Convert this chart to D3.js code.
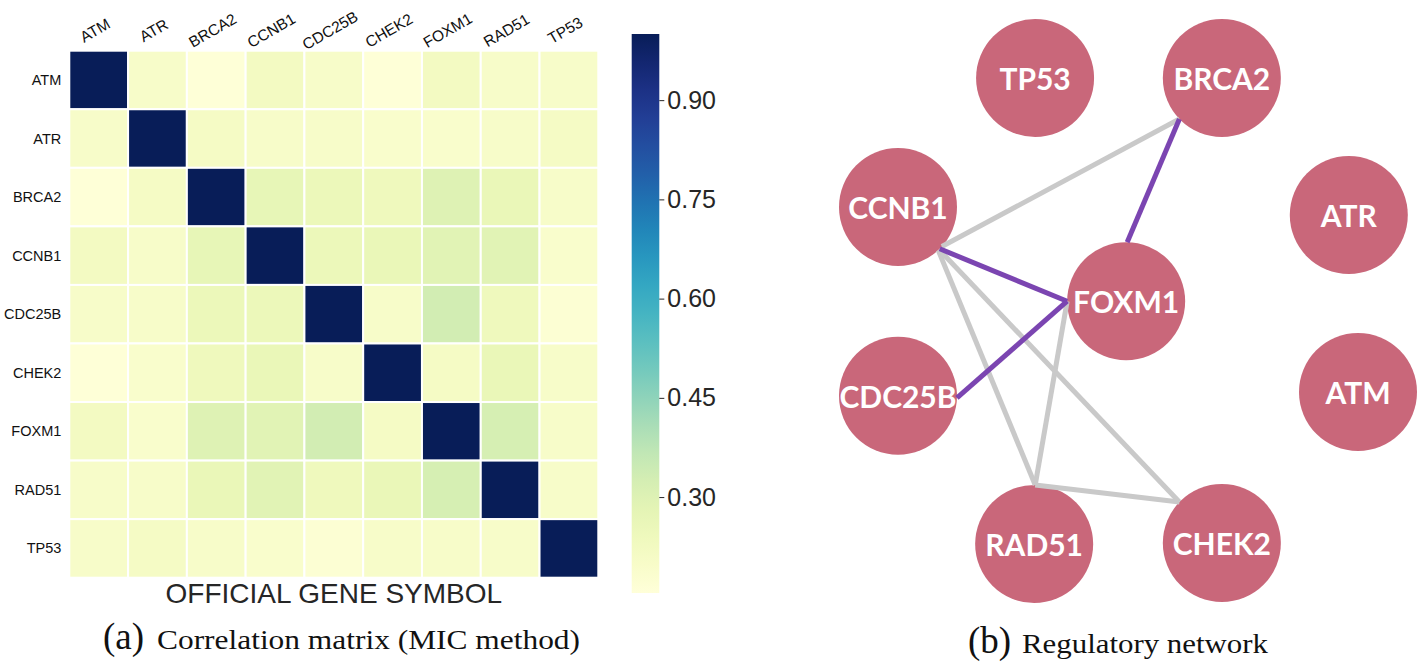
<!DOCTYPE html>
<html><head><meta charset="utf-8">
<script src="https://cdn.jsdelivr.net/npm/d3@7"></script>
<style>body{margin:0;background:#fff}svg{display:block}</style>
</head><body>
<svg id="chart" width="1418" height="667"></svg>
<script>
// ---------- DATA ----------
const genes = ["ATM","ATR","BRCA2","CCNB1","CDC25B","CHEK2","FOXM1","RAD51","TP53"];
// MIC values, one row per gene (same order as genes)
const micATM    = [1.00, 0.20, 0.16, 0.22, 0.20, 0.16, 0.22, 0.20, 0.20];
const micATR    = [0.20, 1.00, 0.21, 0.20, 0.20, 0.19, 0.19, 0.20, 0.21];
const micBRCA2  = [0.16, 0.21, 1.00, 0.27, 0.25, 0.24, 0.30, 0.26, 0.20];
const micCCNB1  = [0.22, 0.20, 0.27, 1.00, 0.25, 0.26, 0.29, 0.29, 0.19];
const micCDC25B = [0.20, 0.20, 0.25, 0.25, 1.00, 0.20, 0.33, 0.24, 0.17];
const micCHEK2  = [0.16, 0.19, 0.24, 0.26, 0.20, 1.00, 0.21, 0.26, 0.20];
const micFOXM1  = [0.22, 0.19, 0.30, 0.29, 0.33, 0.21, 1.00, 0.32, 0.20];
const micRAD51  = [0.20, 0.20, 0.26, 0.29, 0.24, 0.26, 0.32, 1.00, 0.20];
const micTP53   = [0.20, 0.21, 0.20, 0.19, 0.17, 0.20, 0.20, 0.20, 1.00];
const micRows = [micATM, micATR, micBRCA2, micCCNB1, micCDC25B, micCHEK2, micFOXM1, micRAD51, micTP53];
const colorDomain = [0.155, 1.0];
const colorTicks = [0.30, 0.45, 0.60, 0.75, 0.90];
const xAxisTitle = "OFFICIAL GENE SYMBOL";

// Network (layout coordinates 0-100)
const nodeNames   = ["TP53","BRCA2","CCNB1","ATR","FOXM1","CDC25B","ATM","RAD51","CHEK2"];
const nodeLayoutX = [29.8, 70.4, 0.0, 98.0, 49.6, 0.0, 100.0, 29.6, 70.4];
const nodeLayoutY = [0.0, 0.0, 27.7, 29.4, 47.9, 68.2, 67.4, 100.0, 99.8];
const edgeSource  = ["CCNB1","BRCA2","CCNB1","CDC25B","CCNB1","CCNB1","FOXM1","RAD51"];
const edgeTarget  = ["BRCA2","FOXM1","FOXM1","FOXM1","RAD51","CHEK2","RAD51","CHEK2"];
const edgeKind    = ["other","regulatory","regulatory","regulatory","other","other","other","other"];
// attachment port angle (degrees) on source/target node
const edgeSourcePort = [42, 136, 45, 2, 47, 46, 180, -89];
const edgeTargetPort = [136, -89, 180, 180, -89, -136, -89, -136];

const captionA = ["(a)", "Correlation matrix (MIC method)"];
const captionB = ["(b)", "Regulatory network"];

// ---------- DRAW ----------
const svg = d3.select("#chart");
const color = d3.scaleSequential(d3.interpolateYlGnBu).domain(colorDomain);

// Heatmap
const hm = {left: 69.3, right: 598.3, top: 50.7, bottom: 577.7};
const x = d3.scaleBand().domain(genes).range([hm.left, hm.right]);
const y = d3.scaleBand().domain(genes).range([hm.top, hm.bottom]);

const cells = [];
micRows.forEach((row, i) => row.forEach((v, j) => cells.push({r: genes[i], c: genes[j], v})));

svg.append("g").selectAll("rect").data(cells).join("rect")
  .attr("x", d => x(d.c)).attr("y", d => y(d.r))
  .attr("width", x.bandwidth()).attr("height", y.bandwidth())
  .attr("fill", d => color(d.v))
  .attr("stroke", "#fff").attr("stroke-width", 2);

// row labels
svg.append("g").selectAll("text").data(genes).join("text")
  .attr("x", hm.left - 8).attr("y", d => y(d) + y.bandwidth() / 2)
  .attr("text-anchor", "end").attr("dominant-baseline", "central")
  .attr("font-family", "Liberation Sans, Arial, sans-serif").attr("font-size", 14.5)
  .attr("fill", "#111").text(d => d);

// column labels (rotated)
svg.append("g").selectAll("text").data(genes).join("text")
  .attr("transform", d => `translate(${x(d) + x.bandwidth() / 2 - 1},${35}) rotate(-30)`)
  .attr("text-anchor", "middle")
  .attr("font-family", "Liberation Sans, Arial, sans-serif").attr("font-size", 15.5)
  .attr("fill", "#111").text(d => d);

// x-axis title
svg.append("text")
  .attr("x", (hm.left + hm.right) / 2).attr("y", 603)
  .attr("text-anchor", "middle")
  .attr("font-family", "Liberation Sans, Arial, sans-serif").attr("font-size", 28)
  .attr("fill", "#262626").text(xAxisTitle);

// Colorbar
const cb = {x: 631.7, w: 27.6, top: 34, bottom: 593};
const cbScale = d3.scaleLinear().domain(colorDomain).range([cb.bottom, cb.top]);
const defs = svg.append("defs");
const grad = defs.append("linearGradient").attr("id", "cbgrad")
  .attr("x1", 0).attr("y1", 1).attr("x2", 0).attr("y2", 0);
d3.range(0, 1.0001, 0.05).forEach(t => {
  grad.append("stop").attr("offset", t)
    .attr("stop-color", color(colorDomain[0] + t * (colorDomain[1] - colorDomain[0])));
});
svg.append("rect").attr("x", cb.x).attr("y", cb.top)
  .attr("width", cb.w).attr("height", cb.bottom - cb.top)
  .attr("fill", "url(#cbgrad)");
const cbAxis = svg.append("g").attr("transform", `translate(${cb.x + cb.w},0)`)
  .call(d3.axisRight(cbScale).tickValues(colorTicks).tickFormat(d3.format(".2f")).tickSize(5).tickPadding(3));
cbAxis.select(".domain").remove();
cbAxis.selectAll("line").attr("stroke", "#262626");
cbAxis.selectAll("text").attr("font-family", "Liberation Sans, Arial, sans-serif")
  .attr("font-size", 25).attr("fill", "#262626");

// Network
const nx = d3.scaleLinear().domain([0, 100]).range([898, 1358]);
const ny = d3.scaleLinear().domain([0, 100]).range([78, 544]);
const nodeR = 59;
const nodes = nodeNames.map((n, i) => ({name: n, x: nx(nodeLayoutX[i]), y: ny(nodeLayoutY[i])}));
const byName = Object.fromEntries(nodes.map(n => [n.name, n]));
const port = (n, deg) => [n.x + nodeR * Math.cos(deg * Math.PI / 180), n.y + nodeR * Math.sin(deg * Math.PI / 180)];
const edges = edgeSource.map((s, i) => ({
  p1: port(byName[s], edgeSourcePort[i]),
  p2: port(byName[edgeTarget[i]], edgeTargetPort[i]),
  kind: edgeKind[i]
}));
const edgeColor = {other: "#c9c9c9", regulatory: "#7b45b1"};

svg.append("g").selectAll("circle").data(nodes).join("circle")
  .attr("cx", d => d.x).attr("cy", d => d.y).attr("r", nodeR)
  .attr("fill", "#c9677a");

// draw gray first, then purple on top
svg.append("g").selectAll("line")
  .data(edges.slice().sort((a, b) => (a.kind === "regulatory") - (b.kind === "regulatory")))
  .join("line")
  .attr("x1", d => d.p1[0]).attr("y1", d => d.p1[1])
  .attr("x2", d => d.p2[0]).attr("y2", d => d.p2[1])
  .attr("stroke", d => edgeColor[d.kind]).attr("stroke-width", 5)
  .attr("stroke-linecap", "butt");

svg.append("g").selectAll("text").data(nodes).join("text")
  .attr("x", d => d.x).attr("y", d => d.y)
  .attr("text-anchor", "middle").attr("dominant-baseline", "central")
  .attr("font-family", "Lato, Liberation Sans, sans-serif").attr("font-weight", 700)
  .attr("font-size", 30).attr("fill", "#fff").text(d => d.name);

// Captions
function caption(parts, x0, base, restLen) {
  svg.append("text").attr("x", x0).attr("y", base)
    .attr("font-family", "Liberation Serif, Times New Roman, serif").attr("fill", "#111")
    .attr("font-size", 37).text(parts[0]);
  svg.append("text").attr("x", x0 + 54).attr("y", base)
    .attr("font-family", "Liberation Serif, Times New Roman, serif").attr("font-size", 27).attr("fill", "#111")
    .attr("textLength", restLen).attr("lengthAdjust", "spacingAndGlyphs").text(parts[1]);
}
caption(captionA, 103, 649, 423);
caption(captionB, 968, 653, 246);
</script>
</body></html>
